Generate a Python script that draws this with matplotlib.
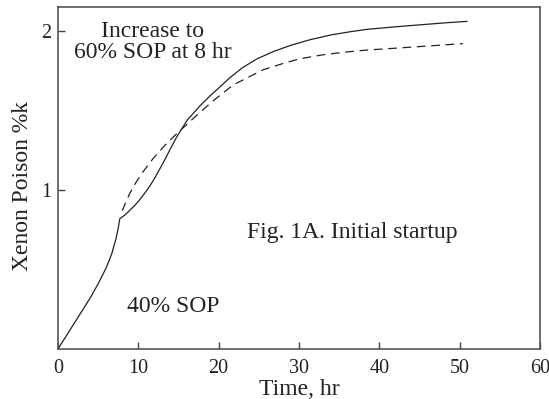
import matplotlib
matplotlib.use("Agg")
import matplotlib.pyplot as plt

# 40% SOP start, stepped to 60% SOP at 8 hr (solid)
t_solid = [0, 1, 2, 3, 4, 5, 6, 6.7, 7.2, 7.5, 7.7,
           8.0, 8.5, 9.0, 9.6, 10.2, 10.8, 11.5, 12.1, 12.7, 13.3, 13.9,
           14.8, 16.1, 17.7, 19.0, 20.2, 21.5, 23.0, 24.8, 26.8, 29.0,
           31.4, 34.0, 36.4, 38.5, 40.7, 43.0, 45.5, 48.0, 50.9]
xe_solid = [0, 0.08, 0.16, 0.24, 0.32, 0.41, 0.51, 0.60, 0.69, 0.76, 0.82,
            0.83, 0.85, 0.875, 0.905, 0.94, 0.98, 1.03, 1.08, 1.135, 1.19, 1.25,
            1.335, 1.44, 1.53, 1.595, 1.65, 1.71, 1.77, 1.825, 1.87, 1.91,
            1.945, 1.975, 1.995, 2.01, 2.02, 2.03, 2.04, 2.05, 2.06]

# dashed curve
t_dash = [8.0, 8.5, 9.0, 9.8, 10.6, 11.8, 13.3, 14.8, 16.1, 17.5, 19.3,
          21.8, 25.5, 28.0, 30.1, 33.0, 35.4, 38.5, 41.6, 46.0, 50.4]
xe_dash = [0.87, 0.93, 0.985, 1.055, 1.115, 1.195, 1.28, 1.355, 1.415, 1.48, 1.56,
           1.66, 1.755, 1.795, 1.825, 1.85, 1.865, 1.88, 1.89, 1.905, 1.92]

xticks = [0, 10, 20, 30, 40, 50, 60]
yticks = [1, 2]

plt.rcParams['font.family'] = ['Liberation Serif', 'DejaVu Serif']
plt.rcParams['font.size'] = 17

fig = plt.figure(figsize=(5.49, 3.99), dpi=100)
ax = fig.add_axes([0.1056, 0.1253, 0.878, 0.857])

ink = '#222222'
ax.plot(t_solid, xe_solid, color=ink, lw=0.9, solid_joinstyle='round')
ax.plot(t_dash, xe_dash, color=ink, lw=0.9, dashes=(7, 4.5))

ax.set_xlim(0, 60)
ax.set_ylim(0, 2.15)
ax.set_xticks(xticks)
ax.set_yticks(yticks)
ax.tick_params(direction='in', length=5, width=1, colors='#444444',
               labelcolor='#222222', labelsize=14.5)
ax.tick_params(axis='x', pad=7)
ax.tick_params(axis='y', pad=5)
for s in ax.spines.values():
    s.set_color('#555555')
    s.set_linewidth(1.2)

ax.set_xlabel('Time, hr', color='#222222')
ax.set_ylabel('Xenon Poison %k', color='#222222')
ax.xaxis.set_label_coords(0.5, -0.088)
ax.yaxis.set_label_coords(-0.052, 0.477)

ax.text(11.8, 1.93, 'Increase to\n60% SOP at 8 hr', ha='center', va='center',
        color='#222222', linespacing=0.95)
ax.text(14.4, 0.27, '40% SOP', ha='center', va='center', color='#222222')
ax.text(23.5, 0.73, 'Fig. 1A. Initial startup', ha='left', va='center',
        color='#222222')

fig.savefig('out.png', dpi=100)
